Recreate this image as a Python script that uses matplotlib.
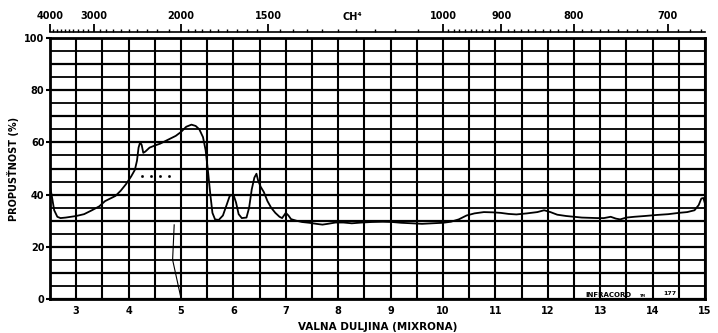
import numpy as np
import matplotlib
matplotlib.use("Agg")
import matplotlib.pyplot as plt
from matplotlib.ticker import FixedLocator

plt.rcParams['font.family'] = ['DejaVu Sans']
plt.rcParams['font.weight'] = 'bold'

# IR spectrum trace: wavelength (microns) vs transmittance (%)
wavelength = [2.50, 2.53, 2.58, 2.64, 2.70, 2.80, 2.90, 3.00, 3.15, 3.30,
              3.44, 3.55, 3.65, 3.75, 3.85, 3.95, 4.05, 4.12, 4.16, 4.19,
              4.22, 4.25, 4.28, 4.32, 4.40, 4.50, 4.60, 4.70, 4.80, 4.90,
              5.00, 5.10, 5.20, 5.28, 5.35, 5.42, 5.47, 5.52, 5.56, 5.60,
              5.65, 5.72, 5.80, 5.87, 5.93, 6.00, 6.05, 6.10, 6.16, 6.25,
              6.30, 6.35, 6.40, 6.44, 6.47, 6.52, 6.58, 6.65, 6.72, 6.80,
              6.88, 6.93, 7.00, 7.05, 7.10, 7.20, 7.31, 7.45, 7.58, 7.70,
              7.80, 7.95, 8.10, 8.26, 8.45, 8.64, 8.85, 9.03, 9.20, 9.41,
              9.60, 9.79, 10.00, 10.15, 10.30, 10.45, 10.60, 10.78, 10.95, 11.10,
              11.25, 11.40, 11.60, 11.80, 11.93, 12.05, 12.18, 12.35, 12.50, 12.65,
              12.80, 12.95, 13.07, 13.20, 13.30, 13.38, 13.50, 13.65, 13.85, 14.08,
              14.30, 14.50, 14.66, 14.80, 14.88, 14.93, 14.97, 15.00]
transmittance = [43.0, 40.0, 34.0, 31.5, 31.0, 31.2, 31.5, 31.8, 32.5, 34.0,
                 35.5, 37.5, 38.5, 39.5, 41.5, 44.0, 47.0, 49.5, 53.0, 58.0,
                 60.0, 59.0, 56.0, 56.5, 58.0, 58.8, 59.5, 60.5, 61.5, 62.5,
                 64.0, 66.0, 66.8, 66.3, 65.0, 62.0, 57.0, 48.0, 40.0, 33.0,
                 30.5, 30.3, 32.0, 36.0, 39.5, 40.0, 37.0, 32.5, 31.0, 31.2,
                 35.0, 42.0, 46.5, 48.0, 45.5, 43.0, 41.0, 37.5, 35.0, 33.0,
                 31.5, 31.0, 33.0, 32.0, 30.6, 30.0, 29.5, 29.2, 28.8, 28.5,
                 28.8, 29.3, 29.3, 29.0, 29.3, 29.5, 29.6, 29.5, 29.2, 29.0,
                 28.8, 29.0, 29.2, 29.6, 30.5, 32.0, 32.8, 33.3, 33.2, 33.0,
                 32.6, 32.4, 32.8, 33.3, 34.0, 33.3, 32.3, 31.8, 31.5, 31.2,
                 31.1, 31.0, 31.0, 31.5, 30.8, 30.5, 31.2, 31.5, 31.8, 32.2,
                 32.5, 33.0, 33.3, 34.0, 36.0, 38.5, 38.7, 36.5]

# stray pen stroke and dots on the chart paper
stroke_um = [4.87, 4.84, 5.00]
stroke_t = [28.4, 15.0, 0.3]
dots_um = [4.26, 4.42, 4.60, 4.77]
dots_t = [47.0, 47.0, 47.0, 47.0]

x_ticks = [3, 4, 5, 6, 7, 8, 9, 10, 11, 12, 13, 14, 15]
y_ticks = [0, 20, 40, 60, 80, 100]
wn_major = [4000, 3000, 2000, 1500, 1000, 900, 800, 700]

fig = plt.figure(figsize=(7.18, 3.33), dpi=100)
ax = fig.add_axes([50 / 718, 1 - 299 / 333, 655 / 718, 261 / 333])
ax.set_xlim(2.5, 15)
ax.set_ylim(0, 100)

# chart paper grid
for v in np.arange(2.5, 15.01, 0.5):
    ax.axvline(v, color='black', lw=1.5, zorder=1)
for h in np.arange(0, 101, 5):
    ax.axhline(h, color='black', lw=1.6 if h % 10 == 0 else 1.3, zorder=1)

ax.plot(wavelength, transmittance, color='black', lw=1.3, zorder=3)
ax.plot(stroke_um, stroke_t, color='black', lw=0.8, zorder=3)
ax.plot(dots_um, dots_t, ls='none', marker='s', ms=0.9, color='black', zorder=3)

for s in ax.spines.values():
    s.set_linewidth(2)
    s.set_color('black')

ax.set_xticks(x_ticks)
ax.set_xticklabels([str(t) for t in x_ticks], fontsize=7, fontweight='bold')
ax.set_yticks(y_ticks)
ax.set_yticklabels([str(t) for t in y_ticks], fontsize=7, fontweight='bold')
ax.tick_params(axis='x', length=0, pad=5)
ax.tick_params(axis='y', length=3, width=1.5, pad=1)

ax.set_xlabel('VALNA DULJINA (MIXRONA)', fontsize=7.5, fontweight='bold', labelpad=4)
ax.set_ylabel('PROPUSŤNOST (%)', fontsize=7, fontweight='bold')
ax.yaxis.set_label_coords(-0.047, 0.5)


def um_to_wn(x):
    x = np.asarray(x, dtype=float)
    with np.errstate(divide='ignore'):
        return 1e4 / x


# wavenumber scale along the top
top = ax.secondary_xaxis('top', functions=(um_to_wn, um_to_wn))
top.spines['top'].set_position(('outward', 4))
top.spines['top'].set_linewidth(1.2)
top.set_xticks(wn_major)
top.set_xticklabels([str(w) for w in wn_major], fontsize=7, fontweight='bold')
minor = list(range(4000, 2000, -100)) + list(range(2000, 1000, -50)) + list(range(1000, 660, -10))
top.xaxis.set_minor_locator(FixedLocator(minor))
top.tick_params(axis='x', which='major', direction='out', length=6, width=1.3, pad=2)
top.tick_params(axis='x', which='minor', direction='out', length=2.5, width=1)

fig.text(352 / 718, 1 - 17 / 333, 'CH⁴', fontsize=7, fontweight='bold', ha='center', va='center')

# recorder imprint in the bottom row
ax.text(12.72, 1.6, 'INFRACORD', fontsize=5, fontweight='bold', va='center', zorder=4)
ax.text(13.75, 1.0, 'TM', fontsize=2.5, fontweight='bold', va='center', zorder=4)
ax.text(14.2, 2.0, '177', fontsize=4.5, fontweight='bold', va='center', zorder=4)

fig.savefig('out.png', dpi=100)
